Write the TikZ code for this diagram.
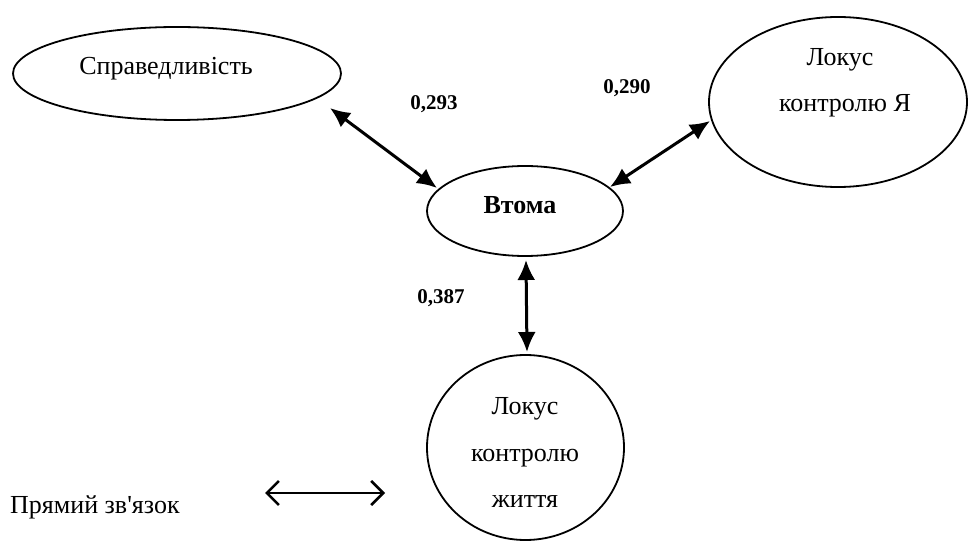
\documentclass[tikz,border=0pt]{standalone}
\usepackage{fontspec}
\setmainfont{Liberation Serif}[Ligatures=TeXOff]
\usetikzlibrary{arrows.meta,shapes.geometric,calc}
\begin{document}
\begin{tikzpicture}[x=1pt,y=-1pt,
  factor/.style={ellipse,draw,line width=1.8pt,inner sep=0pt},
  txt/.style={font=\fontsize{26}{30}\selectfont,anchor=base,inner sep=0pt},
  boldtxt/.style={txt,font=\fontsize{26}{30}\selectfont\bfseries},
  coef/.style={font=\fontsize{21}{24}\selectfont\bfseries,inner sep=0pt},
  link/.style={line width=3pt,{Latex[length=20pt,width=18pt]}-{Latex[length=20pt,width=18pt]}},
  legendarrow/.style={line width=2.6pt,{Straight Barb[length=12pt,width=24pt]}-{Straight Barb[length=12pt,width=24pt]}}]
\useasboundingbox (0,0) rectangle (970,545);

% factors
\node[factor,minimum width=328pt,minimum height=93pt] (spr) at (177,73.5) {};
\node[factor,minimum width=258pt,minimum height=170pt] (lokya) at (838,102) {};
\node[factor,minimum width=196pt,minimum height=90pt] (vtoma) at (525,211) {};
\node[factor,minimum width=197pt,minimum height=185pt] (lokzh) at (525.5,447.5) {};

% factor names
\node[txt] (sprT) at (166,75) {Справедливість};
\node[txt] (lokyaT1) at (840,66) {Локус};
\node[txt] (lokyaT2) at (845,112) {контролю Я};
\node[boldtxt] (vtomaT) at (520,214) {Втома};
\node[txt] (lokzhT1) at (525,414) {Локус};
\node[txt] (lokzhT2) at (525,461) {контролю};
\node[txt] (lokzhT3) at (525,507) {життя};

% correlations
\draw[link] ($(spr.center)+(153,34.5)$) -- ($(vtoma.center)+(-88,-23)$);
\draw[link] ($(lokya.center)+(-128,19)$) -- ($(vtoma.center)+(85,-24)$);
\draw[link] ($(vtoma.center)+(1,49)$) -- ($(lokzh.center)+(1.5,-95.5)$);

\node[coef] (c1) at (434,104) {0,293};
\node[coef] (c2) at (627,88) {0,290};
\node[coef] (c3) at (441,298) {0,387};

% legend
\coordinate (legL) at (265,493);
\coordinate (legR) at (385,493);
\draw[legendarrow] (legL) -- (legR);
\node[txt,anchor=base west] (legT) at (10,513) {Прямий зв'язок};
\end{tikzpicture}
\end{document}
